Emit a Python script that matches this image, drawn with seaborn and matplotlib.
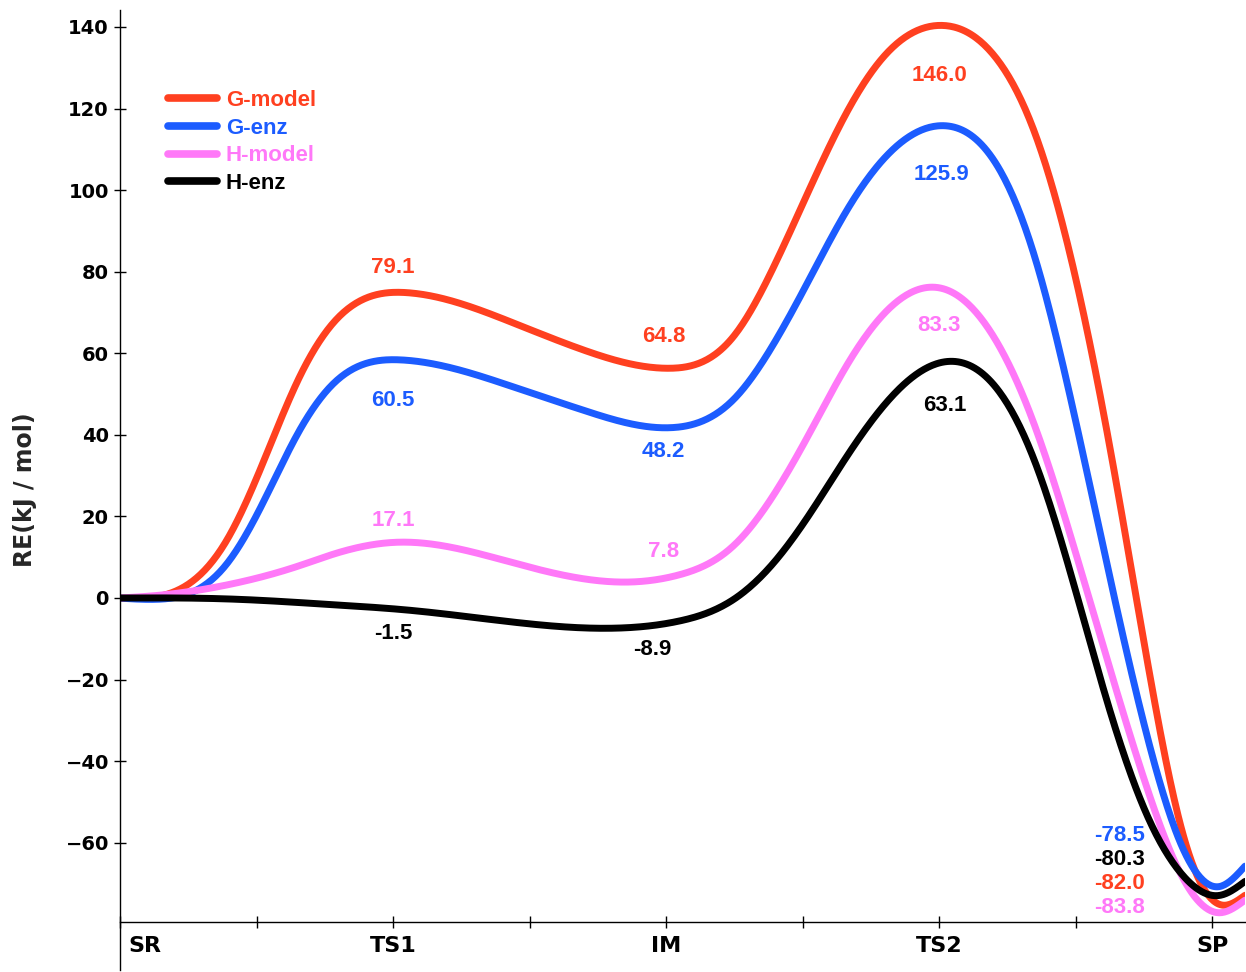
"""Reaction energy profile SR -> TS1 -> IM -> TS2 -> SP, four smoothed curves."""
import matplotlib

matplotlib.use("Agg")
import matplotlib.pyplot as plt
import matplotlib.transforms as mtransforms
import numpy as np
import pandas as pd
import seaborn as sns

STATES = ["SR", "TS1", "IM", "TS2", "SP"]
SERIES = ["G-model", "G-enz", "H-model", "H-enz"]
COLORS = ["#ff4020", "#1c5cff", "#ff78f8", "#000000"]

# relative energies printed on the chart (kJ/mol), order SR..SP
G_MODEL = [0.0, 79.1, 64.8, 146.0, -82.0]
G_ENZ = [0.0, 60.5, 48.2, 125.9, -78.5]
H_MODEL = [0.0, 17.1, 7.8, 83.3, -83.8]
H_ENZ = [0.0, -1.5, -8.9, 63.1, -80.3]

# points (x in state units, y in kJ/mol)
G_MODEL_X = [0, 0.13, 0.39, 0.52, 0.654, 0.785, 1.05, 1.44, 1.70, 2.01, 2.25, 2.39,
             2.53, 2.66, 2.80, 3.01, 3.21, 3.35, 3.48, 3.62, 3.76, 3.89, 3.96, 4.04, 4.12]
G_MODEL_Y = [0, 0.3, 12.5, 32.1, 55.2, 68.2, 74.8, 67.4, 60.8, 56.4, 62.9, 81.0,
             100.9, 119.2, 133.3, 140.3, 131.9, 115.0, 84.1, 40.4, -13.1, -61.0, -71.0, -76.0, -72.0]
G_ENZ_X = [0, 0.13, 0.39, 0.52, 0.654, 0.785, 1.03, 1.44, 1.70, 2.02, 2.25, 2.39,
           2.53, 2.66, 2.80, 3.02, 3.21, 3.35, 3.48, 3.62, 3.76, 3.89, 3.96, 4.03, 4.12]
G_ENZ_Y = [0, 0.0, 6.9, 22.3, 41.9, 53.4, 58.3, 51.7, 46.1, 41.8, 48.0, 62.0,
           78.5, 95.4, 107.9, 115.7, 106.5, 85.4, 48.8, 6.6, -32.8, -62.3, -68.6, -71.5, -65.0]
H_MODEL_X = [0, 0.13, 0.39, 0.654, 0.785, 1.02, 1.44, 1.86, 2.05, 2.25, 2.53, 2.66,
             2.80, 3.03, 3.21, 3.35, 3.48, 3.62, 3.76, 3.89, 3.96, 4.03, 4.12]
H_MODEL_Y = [0, 0.5, 3.2, 7.6, 11.0, 13.7, 8.6, 3.9, 6.1, 12.3, 40.5, 57.4,
             69.9, 75.5, 62.9, 43.1, 15.0, -16.0, -45.5, -69.4, -75.0, -77.8, -73.5]
H_ENZ_X = [0, 0.39, 0.785, 1.05, 1.44, 1.81, 2.05, 2.25, 2.39, 2.53, 2.66, 2.80,
           3.05, 3.21, 3.35, 3.48, 3.62, 3.76, 3.89, 3.96, 4.03, 4.12]
H_ENZ_Y = [0, -0.2, -1.7, -2.9, -5.9, -7.4, -5.4, -0.5, 8.1, 20.7, 34.8, 47.4,
           58.0, 51.6, 34.8, 6.6, -27.2, -53.9, -67.0, -71.6, -73.5, -69.0]

# where the value labels sit (x, y)
LABEL_POS = {
    "G-model": [(1.00, 81.1), (1.99, 64.0), (3.00, 128.0), (3.66, -70.1)],
    "G-enz": [(1.00, 48.5), (1.99, 36.0), (3.01, 103.7), (3.66, -58.3)],
    "H-model": [(1.00, 18.9), (1.99, 11.3), (3.00, 66.7), (3.66, -75.8)],
    "H-enz": [(1.00, -8.8), (1.95, -12.7), (3.02, 47.3), (3.66, -64.2)],
}

X_MAX = 4.12
Y_AXIS_AT = -79.43


def smooth(xk, yk, xs, lam=2500.0):
    """Penalised (second-difference) smoother through the read points on grid xs."""
    x = np.asarray(xk, float)
    y = np.asarray(yk, float)
    n = len(xs)
    step = xs[1] - xs[0]
    B = np.zeros((len(x), n))
    w = np.ones(len(x))
    for k, xv in enumerate(x):
        j = min(int(xv / step), n - 2)
        f = xv / step - j
        B[k, j] = 1 - f
        B[k, j + 1] = f
        first_or_last = k in (0, len(x) - 1)
        if first_or_last or (y[k] - y[k - 1]) * (y[k + 1] - y[k]) < 0:
            w[k] = 6.0
    D = np.diff(np.eye(n), 2, axis=0)
    A = B.T @ (w[:, None] * B) + lam * D.T @ D
    return np.linalg.solve(A, B.T @ (w * y))


def main() -> None:
    sns.set_style("white")
    plt.rcParams["font.family"] = ["DejaVu Sans"]

    nodes = {
        "G-model": (G_MODEL_X, G_MODEL_Y, G_MODEL),
        "G-enz": (G_ENZ_X, G_ENZ_Y, G_ENZ),
        "H-model": (H_MODEL_X, H_MODEL_Y, H_MODEL),
        "H-enz": (H_ENZ_X, H_ENZ_Y, H_ENZ),
    }
    xs = np.linspace(0.0, X_MAX, 825)
    frames = []
    for name in SERIES:
        xk, yk, _ = nodes[name]
        frames.append(pd.DataFrame({"x": xs, "y": smooth(xk, yk, xs), "series": name}))
    df = pd.concat(frames, ignore_index=True)
    palette = dict(zip(SERIES, COLORS))

    fig = plt.figure(figsize=(12.46, 9.72), dpi=100)
    ax = fig.add_axes([120 / 1246, 2 / 972, 1125 / 1246, 960 / 972])

    sns.lineplot(data=df, x="x", y="y", hue="series", hue_order=SERIES,
                 palette=palette, linewidth=5, estimator=None, sort=False,
                 ax=ax, legend=True)
    for line in ax.lines:
        line.set_solid_capstyle("round")

    # value labels
    for name, color in zip(SERIES, COLORS):
        vals = nodes[name][2][1:]
        for (lx, ly), v in zip(LABEL_POS[name], vals):
            ax.text(lx, ly, f"{v:.1f}", color=color, fontsize=16, fontweight="bold",
                    family="Liberation Sans", ha="center", va="center")

    ax.set_xlim(0, X_MAX)
    ax.set_ylim(-91.2, 144.15)
    ax.spines["top"].set_visible(False)
    ax.spines["right"].set_visible(False)
    ax.spines["bottom"].set_position(("data", Y_AXIS_AT))
    for sp in ("left", "bottom"):
        ax.spines[sp].set_linewidth(1.0)
        ax.spines[sp].set_color("black")

    ax.set_xticks(range(len(STATES)))
    ax.set_xticklabels(STATES, fontsize=16, fontweight="bold")
    ax.set_xticks([0.5, 1.5, 2.5, 3.5], minor=True)
    ax.set_yticks(np.arange(-60, 141, 20))
    ax.tick_params(axis="x", which="both", bottom=True, direction="inout", length=8,
                   width=1, pad=6, colors="black")
    ax.tick_params(axis="y", which="major", left=True, direction="inout", length=8,
                   width=1, pad=4, labelsize=14, colors="black")
    for lab in ax.get_yticklabels():
        lab.set_fontweight("bold")
    sr = ax.get_xticklabels()[0]
    sr.set_horizontalalignment("left")
    sr.set_transform(sr.get_transform()
                     + mtransforms.ScaledTranslation(8 / 100, 0, fig.dpi_scale_trans))

    ax.set_xlabel("")
    ax.set_ylabel("RE(kJ / mol)", fontsize=17, fontweight="bold")
    ax.yaxis.set_label_coords(-0.074, 0.5)

    handles, labels = ax.get_legend_handles_labels()
    leg = ax.legend(handles, labels, loc="upper left",
                    bbox_to_anchor=(168 / 1246, 1 - 90 / 972),
                    bbox_transform=fig.transFigure, frameon=False,
                    borderpad=0, borderaxespad=0, handlelength=2.2,
                    handletextpad=0.4, labelspacing=0.3,
                    prop={"family": "Liberation Sans", "weight": "bold", "size": 16})
    for txt, color in zip(leg.get_texts(), COLORS):
        txt.set_color(color)
    for hl in leg.get_lines():
        hl.set_linewidth(5.5)
        hl.set_solid_capstyle("round")

    fig.savefig("out.png", dpi=100)
    plt.close(fig)


if __name__ == "__main__":
    main()
